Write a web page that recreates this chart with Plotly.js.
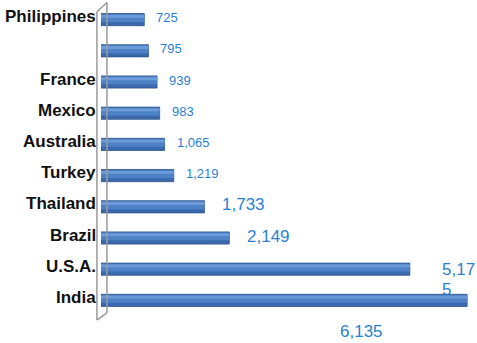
<!DOCTYPE html>
<html><head><meta charset="utf-8">
<script src="https://cdn.plot.ly/plotly-3.0.1.min.js"></script>
<style>html,body{margin:0;padding:0;background:#fff;}#chart{width:477px;height:343px;}</style>
</head><body><div id="chart"></div>
<script>
var countries = ["Philippines", " ", "France", "Mexico", "Australia", "Turkey", "Thailand", "Brazil", "U.S.A.", "India"];
var visitors = [725, 795, 939, 983, 1065, 1219, 1733, 2149, 5175, 6135];
var labelStyle = ["small", "small", "small", "small", "small", "small", "big", "big", "wrap", "below"];

function fmt(v){ return v.toLocaleString("en-US"); }

function layer(color, width, offset, line) {
  return {type: "bar", orientation: "h", y: countries, x: visitors, width: width, offset: offset,
          marker: {color: color, line: line || {width: 0}}, hoverinfo: "skip", showlegend: false};
}
var traces = [
  layer("#3a6aad", 0.39, -0.195, {color: "#2c528c", width: 0.8}),
  layer("#4d82c7", 0.25, -0.175),
  layer("#6b9bd9", 0.09, -0.15)
];

var blue = "#2b7fd2";
var font = "Liberation Sans, Arial";
var annotations = [];
for (var i = 0; i < countries.length; i++) {
  annotations.push({x: 0, y: countries[i], xref: "paper", yref: "y", showarrow: false,
    xanchor: "right", yanchor: "middle", xshift: -3, yshift: 3, text: countries[i],
    font: {family: font, size: 17, color: "#111", weight: "bold"}});
  var s = labelStyle[i], t = fmt(visitors[i]);
  var a = {x: visitors[i], y: countries[i], xref: "x", yref: "y", showarrow: false,
           xanchor: "left", yanchor: "middle", font: {family: font, color: blue, size: 13}};
  if (s === "small") { a.text = t; a.xshift = 10; a.yshift = 2; annotations.push(a); }
  else if (s === "big") { a.text = t; a.xshift = 16; a.yshift = 2; a.font.size = 17; annotations.push(a); }
  else if (s === "wrap") {
    a.text = t.slice(0, -1); a.xshift = 31; a.yshift = 0; a.font.size = 17; a.height = 17; a.borderpad = 0; annotations.push(a);
    var b = JSON.parse(JSON.stringify(a)); b.text = t.slice(-1); b.yshift = -20; annotations.push(b);
  }
  else { a.text = t; a.xanchor = "center"; a.xshift = -106; a.yshift = -31; a.font.size = 17; annotations.push(a); }
}

var wall = {color: "#9a9a9a", width: 1.5};
var shapes = [
  {type: "line", xref: "paper", yref: "paper", x0: -0.011, x1: -0.011, y0: -0.013, y1: 0.975, line: wall},
  {type: "line", xref: "paper", yref: "paper", x0: 0.016, x1: 0.016, y0: 0.010, y1: 1.005, line: wall},
  {type: "line", xref: "paper", yref: "paper", x0: -0.011, x1: 0.016, y0: 0.975, y1: 1.005, line: wall},
  {type: "line", xref: "paper", yref: "paper", x0: -0.011, x1: 0.016, y0: -0.013, y1: 0.010, line: wall}
];

var layout = {
  width: 477, height: 343,
  margin: {l: 101, r: 6, t: 4, b: 27},
  barmode: "overlay",
  paper_bgcolor: "#fff", plot_bgcolor: "#fff",
  xaxis: {range: [0, 6200], visible: false, fixedrange: true},
  yaxis: {type: "category", autorange: "reversed", showgrid: false, zeroline: false, showline: false,
          ticks: "", showticklabels: false},
  annotations: annotations, shapes: shapes
};
Plotly.newPlot("chart", traces, layout, {displayModeBar: false, staticPlot: true});
</script></body></html>
